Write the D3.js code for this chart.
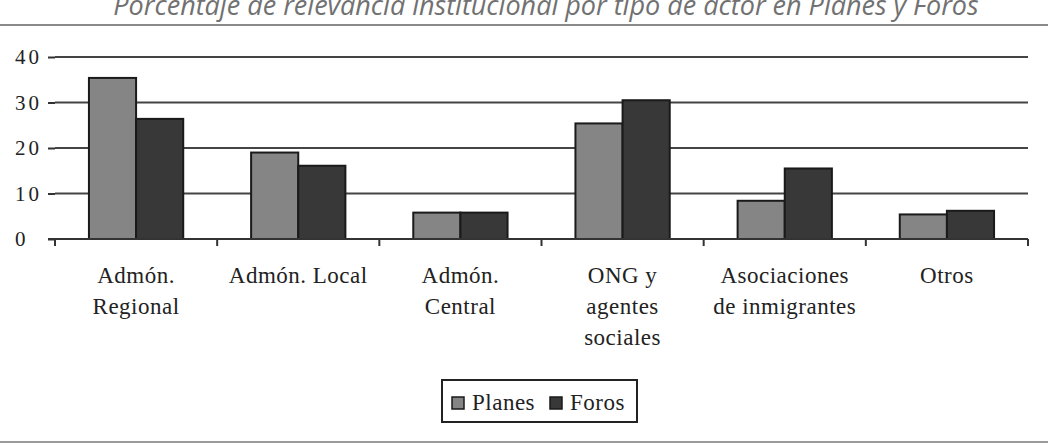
<!DOCTYPE html>
<html>

<head>
    <meta charset="utf-8">
    <script src="https://d3js.org/d3.v7.min.js"></script>
    <title>Relevancia institucional por tipo de actor</title>
    <style>
        body { margin: 0; background: #fff; }
        svg { display: block; }
        .serif { font-family: 'Liberation Serif', serif; }
    </style>
</head>

<body>
    <div id="chart"></div>
</body>

<script>
    const title = "Porcentaje de relevancia institucional por tipo de actor en Planes y Foros";

    // categories (each entry holds its label lines)
    const categories = [
        ["Admón.", "Regional"],
        ["Admón. Local"],
        ["Admón.", "Central"],
        ["ONG y", "agentes", "sociales"],
        ["Asociaciones", "de inmigrantes"],
        ["Otros"]
    ];
    const seriesNames = ["Planes", "Foros"];
    const planes = [35.4, 19.0, 5.8, 25.4, 8.4, 5.4];
    const foros = [26.4, 16.1, 5.8, 30.5, 15.5, 6.2];
    const yTicks = [0, 10, 20, 30, 40];

    const colors = { Planes: "#858585", Foros: "#383838" };

    const width = 1048, height = 444;
    const margin = { top: 57, bottom: 205, left: 55, right: 20 };

    const svg = d3.select("#chart").append("svg")
        .attr("width", width)
        .attr("height", height);

    // title, pushed up so it is partly cut off like the source
    svg.append("text")
        .attr("x", 546)
        .attr("y", 15)
        .attr("text-anchor", "middle")
        .style("font-family", "'Open Sans', sans-serif")
        .style("font-style", "italic")
        .style("font-size", "27px")
        .style("fill", "#717171")
        .text(title);

    // rules above and below the figure
    svg.append("line")
        .attr("x1", 0).attr("x2", width)
        .attr("y1", 25).attr("y2", 25)
        .style("stroke", "#8a8a8a").style("stroke-width", 2);
    svg.append("line")
        .attr("x1", 0).attr("x2", width)
        .attr("y1", 442).attr("y2", 442)
        .style("stroke", "#9a9a9a").style("stroke-width", 2);

    const keys = categories.map((d, i) => i);
    const xScale = d3.scaleBand()
        .domain(keys)
        .range([margin.left, 1028]);
    const xInner = d3.scaleBand()
        .domain(seriesNames)
        .range([0, xScale.bandwidth()])
        .paddingOuter(0.72);
    const yScale = d3.scaleLinear()
        .domain([0, 40])
        .range([239, 57]);

    // y axis ticks + labels (labels sit left-aligned like the source)
    const yAxis = svg.append("g")
        .attr("transform", "translate(" + margin.left + ",0)")
        .call(d3.axisLeft(yScale).tickValues(yTicks).tickSize(7));
    yAxis.attr("font-family", null).attr("text-anchor", null);
    yAxis.select(".domain").remove();
    yAxis.selectAll(".tick line").style("stroke", "#333").style("stroke-width", 2);
    yAxis.selectAll(".tick text")
        .attr("class", "serif")
        .attr("x", 15 - margin.left)
        .attr("text-anchor", "start")
        .style("font-size", "21px")
        .style("letter-spacing", "3px")
        .style("fill", "#222");

    // gridlines
    svg.append("g")
        .selectAll("line")
        .data(yTicks.filter(d => d > 0))
        .enter()
        .append("line")
        .attr("x1", margin.left)
        .attr("x2", 1028)
        .attr("y1", d => yScale(d))
        .attr("y2", d => yScale(d))
        .style("stroke", "#444")
        .style("stroke-width", 2);

    // bars
    const groups = svg.append("g")
        .selectAll("g")
        .data(keys)
        .enter()
        .append("g")
        .attr("transform", d => "translate(" + xScale(d) + ",0)");

    groups.selectAll("rect")
        .data(i => [
            { name: "Planes", value: planes[i] },
            { name: "Foros", value: foros[i] }
        ])
        .enter()
        .append("rect")
        .attr("x", d => xInner(d.name))
        .attr("width", xInner.bandwidth())
        .attr("y", d => yScale(d.value))
        .attr("height", d => yScale(0) - yScale(d.value))
        .style("fill", d => colors[d.name])
        .style("stroke", "#1a1a1a")
        .style("stroke-width", 2);

    // x axis line and category ticks
    const xAxis = svg.append("g")
        .attr("transform", "translate(0," + yScale(0) + ")");
    xAxis.append("line")
        .attr("x1", margin.left - 7).attr("x2", 1028)
        .style("stroke", "#333").style("stroke-width", 2);
    xAxis.selectAll(".xtick")
        .data(d3.range(categories.length + 1))
        .enter()
        .append("line")
        .attr("class", "xtick")
        .attr("x1", d => margin.left + d * xScale.step())
        .attr("x2", d => margin.left + d * xScale.step())
        .attr("y1", 0).attr("y2", 7)
        .style("stroke", "#333").style("stroke-width", 2);

    const labels = svg.append("g")
        .selectAll("text")
        .data(keys)
        .enter()
        .append("text")
        .attr("class", "serif")
        .attr("x", d => xScale(d) + xScale.bandwidth() / 2)
        .attr("y", 283)
        .attr("text-anchor", "middle")
        .style("font-size", "23px")
        .style("letter-spacing", "0.5px")
        .style("fill", "#222");
    labels.selectAll("tspan")
        .data(d => categories[d])
        .enter()
        .append("tspan")
        .attr("x", function () { return this.parentNode.getAttribute("x"); })
        .attr("dy", (d, i) => i === 0 ? 0 : 31)
        .text(d => d);

    // legend
    const legend = svg.append("g");
    legend.append("rect")
        .attr("x", 442).attr("y", 380)
        .attr("width", 195).attr("height", 42)
        .style("fill", "#fff")
        .style("stroke", "#222")
        .style("stroke-width", 2);
    const legendX = [452, 550];
    seriesNames.forEach((name, i) => {
        legend.append("rect")
            .attr("x", legendX[i]).attr("y", 397)
            .attr("width", 12).attr("height", 12)
            .style("fill", colors[name])
            .style("stroke", "#1a1a1a")
            .style("stroke-width", 1.5);
        legend.append("text")
            .attr("class", "serif")
            .attr("x", legendX[i] + 20)
            .attr("y", 410)
            .style("font-size", "23px")
            .style("letter-spacing", "0.5px")
            .style("fill", "#222")
            .text(name);
    });
</script>

</html>
